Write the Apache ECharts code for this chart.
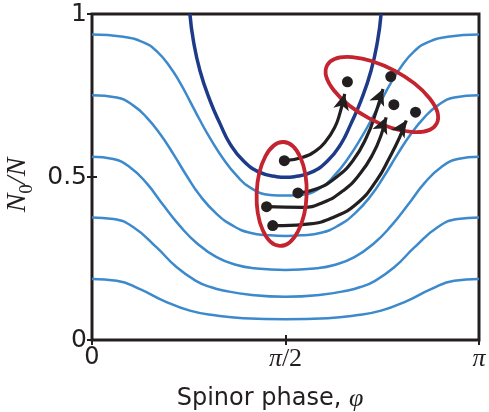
<!DOCTYPE html>
<html>
<head>
<meta charset="utf-8">
<script src="https://cdn.jsdelivr.net/npm/echarts@6/dist/echarts.min.js"></script>
<style>html,body{margin:0;padding:0;background:#fff}#main{width:489px;height:412px}</style>
</head>
<body>
<div id="main"></div>
<script>
// x = spinor phase in units of pi, y = N0/N
const xTicks = [0, 0.5, 1];
const xTickLabels = ['{s|0}', '{pi|π}{n|/2}', '{pi|π}'];
const yTicks = [0, 0.5, 1];
const yTickLabels = ['0', '0.5', '1'];

// light blue energy contours
const contourA = [[0,0.937],[0.081,0.930],[0.133,0.913],[0.167,0.886],[0.202,0.837],[0.227,0.790],[0.253,0.733],[0.279,0.674],[0.305,0.619],[0.339,0.556],[0.374,0.504],[0.408,0.468],[0.460,0.445],[0.5,0.443],
  [0.540,0.445],[0.592,0.468],[0.626,0.504],[0.661,0.556],[0.695,0.619],[0.721,0.674],[0.747,0.733],[0.773,0.790],[0.798,0.837],[0.833,0.886],[0.867,0.913],[0.919,0.930],[1,0.937]];
const contourB = [[0,0.751],[0.064,0.744],[0.107,0.719],[0.141,0.683],[0.176,0.632],[0.210,0.571],[0.245,0.503],[0.279,0.443],[0.322,0.387],[0.365,0.350],[0.408,0.329],[0.460,0.321],[0.5,0.319],
  [0.540,0.321],[0.592,0.329],[0.635,0.350],[0.678,0.387],[0.721,0.443],[0.755,0.503],[0.790,0.571],[0.824,0.632],[0.859,0.683],[0.893,0.719],[0.936,0.744],[1,0.751]];
const contourC = [[0,0.562],[0.055,0.555],[0.098,0.530],[0.141,0.481],[0.184,0.414],[0.227,0.350],[0.271,0.297],[0.322,0.254],[0.374,0.230],[0.420,0.220],[0.5,0.215],
  [0.580,0.220],[0.626,0.230],[0.678,0.254],[0.729,0.297],[0.773,0.350],[0.816,0.414],[0.859,0.481],[0.902,0.530],[0.945,0.555],[1,0.562]];
const contourD = [[0,0.376],[0.055,0.371],[0.107,0.346],[0.167,0.284],[0.219,0.223],[0.271,0.180],[0.305,0.163],[0.339,0.152],[0.408,0.139],[0.5,0.133],
  [0.592,0.139],[0.661,0.152],[0.695,0.163],[0.729,0.180],[0.781,0.223],[0.833,0.284],[0.893,0.346],[0.945,0.371],[1,0.376]];
const contourE = [[0,0.187],[0.064,0.182],[0.124,0.156],[0.184,0.121],[0.253,0.090],[0.322,0.075],[0.391,0.067],[0.5,0.064],
  [0.609,0.067],[0.678,0.075],[0.747,0.090],[0.816,0.121],[0.876,0.156],[0.936,0.182],[1,0.187]];

// dark separatrix
const separatrix = [[0.253,1.0],[0.262,0.918],[0.279,0.826],[0.305,0.734],[0.331,0.663],[0.357,0.601],[0.391,0.550],[0.434,0.514],[0.477,0.501],[0.5,0.499],
  [0.523,0.501],[0.566,0.514],[0.609,0.550],[0.643,0.601],[0.669,0.663],[0.695,0.734],[0.721,0.826],[0.738,0.918],[0.747,1.0]];

// black trajectories (start dot -> arrow)
const traj1 = [[0.497,0.550],[0.543,0.560],[0.579,0.581],[0.605,0.611],[0.627,0.652],[0.640,0.693],[0.653,0.755]];
const traj2 = [[0.532,0.451],[0.579,0.463],[0.631,0.499],[0.674,0.550],[0.709,0.621],[0.735,0.703],[0.752,0.770]];
const traj3 = [[0.451,0.409],[0.545,0.407],[0.597,0.422],[0.649,0.458],[0.692,0.509],[0.726,0.571],[0.748,0.632],[0.760,0.683]];
const traj4 = [[0.467,0.351],[0.494,0.351],[0.563,0.356],[0.623,0.376],[0.683,0.417],[0.735,0.489],[0.769,0.560],[0.795,0.622],[0.812,0.673]];
const startDots = [[0.497,0.550],[0.532,0.451],[0.451,0.409],[0.467,0.351]];
const endDots = [[0.660,0.792],[0.772,0.808],[0.780,0.722],[0.836,0.699]];
const arrowAngles = [-13, -23, -23, -32];

// red ellipse centres
const ellipseCenters = [[0.490,0.448],[0.749,0.753]];

const blue = '#3c89cc', navy = '#1e3b89', ink = '#231f20', red = '#c3242f';

var chartDom = document.getElementById('main');
var myChart = echarts.init(chartDom);

function curve(data, color, width, z) {
  return {type: 'line', data: data, smooth: 0.5, showSymbol: false, symbol: 'none',
    lineStyle: {color: color, width: width}, z: z, silent: true};
}

const tickStyle = {show: true, inside: true, length: 5, lineStyle: {color: ink, width: 2}};
const trajs = [traj1, traj2, traj3, traj4];
const dotStyle = {color: ink, opacity: 1};

var option = {
  animation: false,
  grid: {left: 92, right: 10, top: 14, bottom: 72, outerBoundsMode: 'none', containLabel: false,
    show: true, borderColor: ink, borderWidth: 3},
  xAxis: [
    {type: 'value', min: 0, max: 1, interval: 0.5, axisLine: {show: false}, splitLine: {show: false}, axisTick: tickStyle,
      axisLabel: {margin: 6, color: ink, formatter: v => xTickLabels[xTicks.indexOf(v)],
        rich: {s: {fontFamily: 'DejaVu Sans', fontSize: 24, color: ink},
               pi: {fontFamily: 'Liberation Serif', fontStyle: 'italic', fontSize: 26, color: ink},
               n: {fontFamily: 'Liberation Serif', fontSize: 26, color: ink}}},
      name: '{t|Spinor phase, }{f|φ}', nameLocation: 'middle', nameGap: 46,
      nameTextStyle: {padding: [0, 31, 0, 0], rich: {
        t: {fontFamily: 'DejaVu Sans', fontSize: 24, color: ink},
        f: {fontFamily: 'Liberation Serif', fontStyle: 'italic', fontSize: 26, color: ink}}}},
    {type: 'value', position: 'top', min: 0, max: 1, interval: 0.5, axisLine: {show: false}, splitLine: {show: false},
      axisTick: tickStyle, axisLabel: {show: false}}
  ],
  yAxis: [
    {type: 'value', min: 0, max: 1, interval: 0.5, axisLine: {show: false}, splitLine: {show: false}, axisTick: tickStyle,
      axisLabel: {margin: 5, color: ink, fontFamily: 'DejaVu Sans', fontSize: 25, formatter: v => yTickLabels[yTicks.indexOf(v)]},
      name: '{i|N}{s|0}{i|/N}', nameLocation: 'middle', nameRotate: 90, nameGap: 51,
      nameTextStyle: {padding: [0, 16, 0, 0], rich: {
        i: {fontFamily: 'Liberation Serif', fontStyle: 'italic', fontSize: 28, color: ink, verticalAlign: 'bottom', padding: [0, 0, 5, 0]},
        s: {fontFamily: 'Liberation Serif', fontSize: 19, color: ink, verticalAlign: 'bottom'}}}},
    {type: 'value', position: 'right', min: 0, max: 1, interval: 0.5, axisLine: {show: false}, splitLine: {show: false},
      axisTick: tickStyle, axisLabel: {show: false}}
  ],
  series: [
    curve(contourA, blue, 2.5, 2),
    curve(contourB, blue, 2.5, 2),
    curve(contourC, blue, 2.5, 2),
    curve(contourD, blue, 2.5, 2),
    curve(contourE, blue, 2.5, 2),
    curve(separatrix, navy, 3.5, 2),
    ...trajs.map(t => curve(t, ink, 3.2, 3)),
    {type: 'scatter', data: startDots, symbolSize: 11, itemStyle: dotStyle, z: 6, silent: true},
    {type: 'scatter', data: endDots, symbolSize: 11, itemStyle: dotStyle, z: 6, silent: true},
    {type: 'scatter', symbol: 'arrow', symbolSize: [12, 16], itemStyle: dotStyle, z: 6, silent: true,
      data: trajs.map((t, i) => ({value: t[t.length - 1], symbolRotate: arrowAngles[i]}))}
  ]
};
option && myChart.setOption(option);

// red ellipses, placed through the grid's scales
const ellipseShapes = [{rx: 25, ry: 52, rot: -2}, {rx: 62, ry: 27, rot: -28}];
myChart.setOption({
  graphic: ellipseCenters.map((c, i) => {
    const p = myChart.convertToPixel({gridIndex: 0}, c);
    const e = ellipseShapes[i];
    return {type: 'ellipse', x: p[0], y: p[1], rotation: e.rot * Math.PI / 180, z: 5, silent: true,
      shape: {cx: 0, cy: 0, rx: e.rx, ry: e.ry}, style: {fill: 'none', stroke: red, lineWidth: 3.8}};
  })
});
</script>
</body>
</html>
